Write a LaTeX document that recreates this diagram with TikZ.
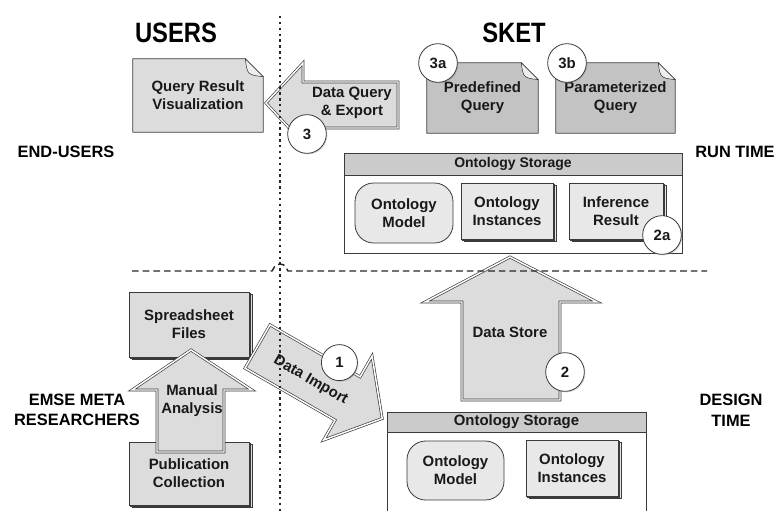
\documentclass[tikz,border=0pt]{standalone}
\usepackage{fontspec}
\setmainfont{Liberation Sans}
\usetikzlibrary{calc,shadows}

\definecolor{lightfill}{HTML}{DCDCDC}
\definecolor{darkfill}{HTML}{C3C3C3}
\definecolor{headfill}{HTML}{CBCBCB}
\definecolor{itemfill}{HTML}{E8E8E8}
\definecolor{flapfill}{HTML}{EEEEEE}
\definecolor{edgecol}{HTML}{3A3A3A}

\tikzstyle{heading} = [font=\bfseries\fontsize{21}{24}\selectfont, inner sep=0pt]
\tikzstyle{role} = [font=\bfseries\fontsize{12.3}{15.5}\selectfont, align=center, inner sep=0pt]
\tikzstyle{txt} = [font=\bfseries\fontsize{11.2}{13.5}\selectfont, align=center, text=black!90]
\tikzstyle{box} = [draw=edgecol, line width=0.6pt, inner sep=0pt, txt]
\tikzstyle{paper} = [fill=lightfill, inner sep=0pt, txt]
\tikzstyle{stack} = [box, copy shadow={shadow xshift=2.6pt, shadow yshift=-1.6pt}, copy shadow={shadow xshift=1.3pt, shadow yshift=-0.8pt}]
\tikzstyle{soft} = [drop shadow={shadow xshift=0.8pt, shadow yshift=-0.8pt, opacity=0.3}]
\tikzstyle{tag} = [circle, draw=edgecol, fill=white, line width=0.6pt, minimum size=29pt, inner sep=0pt, txt, soft]
\tikzstyle{fatarrow} = [fill=lightfill, draw=edgecol, line width=0.5pt, double=white, double distance=1.1pt, line join=miter, soft]
\tikzstyle{split} = [black!85, line width=1.1pt, dash pattern=on 5pt off 3pt]
\tikzstyle{dotsplit} = [black!85, line width=1.5pt, dash pattern=on 1.8pt off 2.6pt]

% cut the top right corner of a paper node and draw its flap
\newcommand{\dogear}[2]{%
  \fill[white] ($(#1.north east)+(-#2,0)$) -- (#1.north east) -- ($(#1.north east)+(0,#2)$) -- cycle;
  \draw[edgecol, line width=0.6pt, line join=round] (#1.south west) -- (#1.north west)
    -- ($(#1.north east)+(-#2,0)$) -- ($(#1.north east)+(0,#2)$) -- (#1.south east) -- cycle;
  \filldraw[fill=flapfill, draw=edgecol, line width=0.4pt] ($(#1.north east)+(-#2,0)$)
    .. controls ($(#1.north east)+(-#2+2,#2-2)$) .. ($(#1.north east)+(0,#2)$) -- cycle;
}

\begin{document}
\begin{tikzpicture}[x=0.75pt,y=-0.75pt]
	\useasboundingbox (0,0) rectangle (777,510);

	% query side (run time)
	\node [paper,minimum width=97.5pt,minimum height=54.75pt] (qrv) at (198,95.5) {Query Result\\Visualization};
	\dogear{qrv}{18}
	\node [paper,fill=darkfill,minimum width=83.25pt,minimum height=52.5pt] (preq) at (482.5,98) {Predefined\\Query};
	\dogear{preq}{17}
	\node [paper,fill=darkfill,minimum width=89.25pt,minimum height=52.5pt] (parq) at (615.5,98) {Parameterized\\Query};
	\dogear{parq}{17}
	\node [tag] (c3a) at (438,63) {3a};
	\node [tag] (c3b) at (567,63) {3b};

	\draw [fatarrow] (266,103) -- (303,63) -- (303,82) -- (398,82) -- (398,128) -- (303,128) -- (303,143) -- cycle;
	\node [txt,anchor=east,inner sep=0pt] (dqtxt) at (392,103) {Data Query\\\& Export};
	\node [tag] (c3) at (307,134) {3};

	% run time storage
	\node [box,fill=white,soft,minimum width=253.5pt,minimum height=75pt] (runstore) at (513,203) {};
	\node [box,fill=headfill,minimum width=253.5pt,minimum height=16.5pt,font=\bfseries\fontsize{10.5}{12}\selectfont] (runhead) at (513,164) {Ontology Storage};
	\node [box,fill=itemfill,rounded corners=14pt,minimum width=73.5pt,minimum height=45pt] (runmodel) at (404,213) {Ontology\\Model};
	\node [stack,fill=itemfill,minimum width=69pt,minimum height=42pt] (runinst) at (507,211) {Ontology\\Instances};
	\node [stack,fill=itemfill,minimum width=70.5pt,minimum height=42pt] (runinf) at (616,211) {Inference\\Result};
	\node [tag] (c2a) at (662,235) {2a};

	% data store
	\draw [fatarrow] (510,257) -- (597,302) -- (560,302) -- (560,400) -- (462,400) -- (462,302) -- (425,302) -- cycle;
	\node [txt,inner sep=0pt] (dstxt) at (510,332) {Data Store};
	\node [tag] (c2) at (565,372) {2};

	% design time storage
	\node [box,fill=white,soft,minimum width=194.25pt,minimum height=88.5pt] (desstore) at (516.5,471) {};
	\node [box,fill=headfill,minimum width=194.25pt,minimum height=15pt] (deshead) at (516.5,422) {Ontology Storage};
	\node [box,fill=itemfill,rounded corners=14pt,minimum width=72.75pt,minimum height=44.25pt] (desmodel) at (455.5,470.5) {Ontology\\Model};
	\node [stack,fill=itemfill,minimum width=69pt,minimum height=42pt] (desinst) at (572,468) {Ontology\\Instances};

	% researchers side
	\node [stack,fill=lightfill,minimum width=90pt,minimum height=48.75pt] (sheets) at (189,324.5) {Spreadsheet\\Files};
	\node [stack,fill=lightfill,minimum width=90pt,minimum height=47.25pt] (pubs) at (189,473.5) {Publication\\Collection};
	\draw [fatarrow] (191,350) -- (252,390) -- (224,390) -- (224,452) -- (157,452) -- (157,390) -- (132,390) -- cycle;
	\node [txt,inner sep=0pt] (matxt) at (192,401) {Manual\\Analysis};

	% data import
	\begin{scope}[shift={(257.5,346.5)},rotate=-30]
		\draw [fatarrow] (0,-25) -- (104,-25) -- (104,-49) -- (144,0) -- (104,48) -- (104,25) -- (0,25) -- cycle;
		\node [txt,rotate=-30,inner sep=0pt] (ditxt) at (63,3) {Data Import};
		\node [tag,minimum size=27pt] (c1) at (79,-27) {1};
	\end{scope}

	% titles
	\node [heading] (users) at (176,33) {\scalebox{0.85}[1]{USERS}};
	\node [heading] (sket) at (514,33) {\scalebox{0.85}[1]{SKET}};
	\node [role] (endusers) at (66,152) {END-USERS};
	\node [role] (runtime) at (735,152) {RUN TIME};
	\node [role] (emse) at (77,410) {EMSE META\\RESEARCHERS};
	\node [role] (destime) at (731,410) {DESIGN\\TIME};

	% dividers
	\coordinate (vtop) at (280,16);
	\coordinate (vbot) at (280,512);
	\coordinate (hleft) at (132,271);
	\coordinate (hopa) at (272,271);
	\coordinate (hopb) at (288,271);
	\coordinate (hright) at (707,271);
	\draw [split] (hleft) -- (hopa) .. controls (276,264) and (277,264) .. (280,264)
		.. controls (283,264) and (284,264) .. (hopb) -- (hright);
	\draw [dotsplit] (vtop) -- (vbot);
\end{tikzpicture}
\end{document}
